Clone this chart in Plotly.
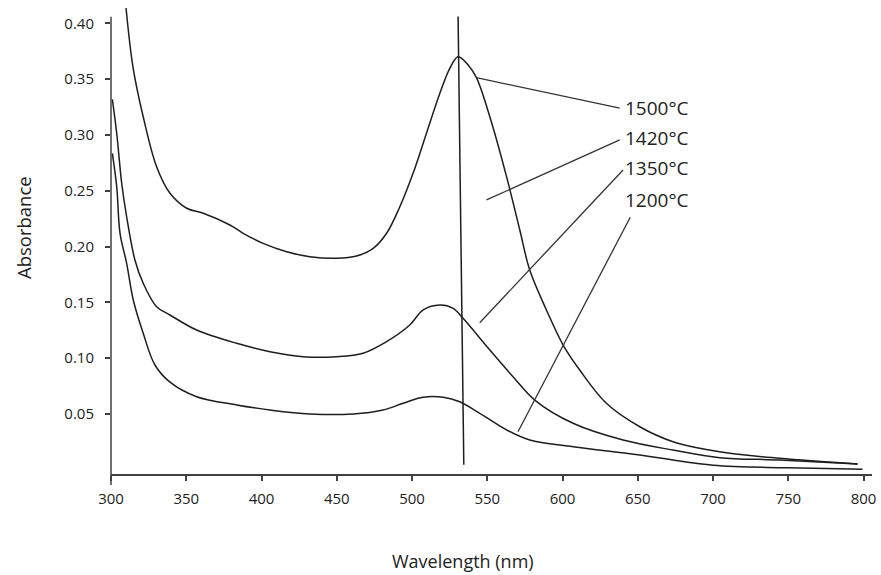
import plotly.graph_objects as go

# ---------------- data ----------------
wl_1500 = [310, 314.6, 321.4, 330.3, 339.2, 350.3, 361.3, 379, 387.8, 401.1, 416.7, 432.1, 449.9,
           463.2, 474.2, 483.1, 491.9, 500.7, 509.6, 518.5, 525.1, 530.6, 537.3, 542.8, 551.7,
           562.8, 571.6, 578.2, 589.3, 600.4, 611.4, 629.1, 651.3, 673.4, 704.4, 744.2, 796]
abs_1500 = [0.4137, 0.3608, 0.3163, 0.2715, 0.2477, 0.2343, 0.2298, 0.2193, 0.2119, 0.2029, 0.1954,
            0.1909, 0.1895, 0.1915, 0.1984, 0.2119, 0.2357, 0.2656, 0.3015, 0.3373, 0.3597, 0.3701,
            0.3627, 0.3513, 0.3163, 0.2626, 0.2148, 0.179, 0.1432, 0.1118, 0.0894, 0.0596, 0.0386,
            0.0252, 0.0162, 0.0103, 0.0052]

wl_1350 = [300.9, 303.8, 307.1, 310.4, 315.9, 321.4, 330.3, 339.2, 356.9, 383.5, 405.6, 427.7, 449.9,
           467.5, 483.1, 498.5, 507.4, 518.5, 527.3, 533.9, 551.7, 567.1, 581.5, 607, 640.2, 673.4,
           704.4, 744.2, 796]
abs_1350 = [0.3319, 0.3015, 0.2567, 0.2267, 0.188, 0.1671, 0.1461, 0.1387, 0.1252, 0.1133, 0.1058,
            0.1013, 0.1013, 0.1044, 0.1148, 0.1297, 0.1432, 0.1476, 0.1447, 0.1357, 0.1073, 0.0834,
            0.0625, 0.0417, 0.0267, 0.0177, 0.0109, 0.0088, 0.0052]

wl_1200 = [300.9, 303.8, 306, 310.4, 314.8, 321.4, 329.2, 339.2, 356.9, 383.5, 405.6, 432.1, 460.9,
           480.8, 494.1, 507.4, 520.7, 531.7, 545, 562.8, 578.2, 607, 651.3, 700, 750, 799.3]
abs_1200 = [0.2835, 0.2536, 0.2119, 0.185, 0.1521, 0.1223, 0.0939, 0.0785, 0.0655, 0.0581, 0.0536,
            0.05, 0.05, 0.0536, 0.0596, 0.065, 0.065, 0.061, 0.0506, 0.0357, 0.0267, 0.0207, 0.0133,
            0.004, 0.0018, 0.0005]

# peak-position marker line (wavelength, absorbance)
marker_wl = [530.6, 534.4]
marker_abs = [0.406, 0.0046]

# legend labels and their leader lines (start on chart -> end at label)
labels = ["1500°C", "1420°C", "1350°C", "1200°C"]
leader_wl = [[542.8, 638], [549.5, 638], [545, 640.2], [570.4, 645]]
leader_abs = [[0.3513, 0.324], [0.2418, 0.2955], [0.1318, 0.2686], [0.0341, 0.2263]]

x_ticks = [300, 350, 400, 450, 500, 550, 600, 650, 700, 750, 800]
y_ticks = [0.05, 0.10, 0.15, 0.20, 0.25, 0.30, 0.35, 0.40]

# ---------------- layout geometry (pixels) ----------------
W, H = 881, 575
L, R, T, B = 111, 872, 5, 474
X_RANGE = [300, 805.6]
Y_RANGE = [-0.00375, 0.4164]


def px(x):
    return (x - L) / (R - L)


def py(y):
    return (B - y) / (B - T)


FONT = "Open Sans, Liberation Sans, sans-serif"
LINE_C = "#1e1e1e"
AXIS_C = "#404040"
TEXT_C = "#222222"

fig = go.Figure()
for wl, ab in [(wl_1500, abs_1500), (wl_1350, abs_1350), (wl_1200, abs_1200)]:
    fig.add_trace(go.Scatter(x=wl, y=ab, mode="lines",
                             line=dict(color=LINE_C, width=1.5, shape="spline", smoothing=1.0),
                             showlegend=False, hoverinfo="skip"))

fig.add_trace(go.Scatter(x=marker_wl, y=marker_abs, mode="lines",
                         line=dict(color=LINE_C, width=1.5), showlegend=False, hoverinfo="skip"))
for lw, la in zip(leader_wl, leader_abs):
    fig.add_trace(go.Scatter(x=lw, y=la, mode="lines",
                             line=dict(color="#333333", width=1.3), showlegend=False, hoverinfo="skip"))

label_px_y = [108.3, 138.3, 168.3, 200]
annotations = []
for txt, yy in zip(labels, label_px_y):
    annotations.append(dict(text=txt, xref="paper", yref="paper", x=px(623), y=py(yy),
                            xanchor="left", yanchor="middle", showarrow=False,
                            font=dict(family=FONT, size=19, color=TEXT_C)))
annotations.append(dict(text="Absorbance", xref="paper", yref="paper", x=px(23), y=py(228),
                        xanchor="center", yanchor="middle", textangle=-90, showarrow=False,
                        font=dict(family=FONT, size=18.5, color=TEXT_C)))
annotations.append(dict(text="Wavelength (nm)", xref="paper", yref="paper", x=px(463), y=py(561),
                        xanchor="center", yanchor="middle", showarrow=False, borderpad=0,
                        font=dict(family=FONT, size=18, color=TEXT_C)))

shapes = [dict(type="line", xref="paper", yref="paper", x0=0, x1=0,
               y0=py(16.7), y1=py(485), line=dict(color=AXIS_C, width=1.5))]

fig.update_layout(
    width=W, height=H,
    margin=dict(l=L, r=W - R, t=T, b=H - B, pad=0),
    paper_bgcolor="white", plot_bgcolor="white",
    annotations=annotations, shapes=shapes,
    xaxis=dict(range=X_RANGE, tickvals=x_ticks, ticktext=[str(v) for v in x_ticks],
               showline=True, linecolor=AXIS_C, linewidth=1.5,
               ticks="outside", ticklen=5, tickwidth=1.5, tickcolor=AXIS_C,
               showgrid=False, zeroline=False, ticklabelstandoff=5,
               tickfont=dict(family=FONT, size=15, color=TEXT_C)),
    yaxis=dict(range=Y_RANGE, tickvals=y_ticks, ticktext=["%.2f" % v for v in y_ticks],
               showline=False, ticks="outside", ticklen=5, tickwidth=1.5, tickcolor=AXIS_C,
               showgrid=False, zeroline=False, ticklabelstandoff=8,
               tickfont=dict(family=FONT, size=15, color=TEXT_C)),
)

fig.write_html("out.html")
